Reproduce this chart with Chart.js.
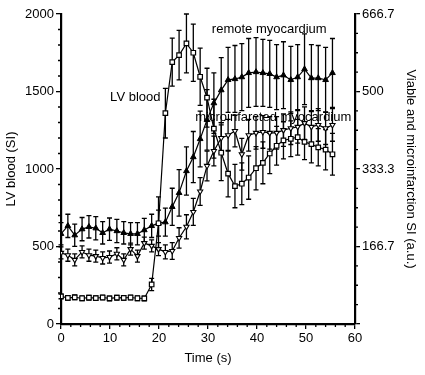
<!DOCTYPE html>
<html>
<head>
<meta charset="utf-8">
<script src="https://cdn.jsdelivr.net/npm/chart.js@4.4.1/dist/chart.umd.min.js"></script>
<style>
  html, body { margin: 0; padding: 0; background: #fff; }
  #wrap { width: 425px; height: 375px; }
</style>
</head>
<body>
<div id="wrap"><canvas id="myChart" width="425" height="375"></canvas></div>
<script>
// sample times (s), one per heart beat
var time = [0, 1.4, 2.8, 4.3, 5.7, 7.1, 8.5, 9.9, 11.4, 12.8, 14.2, 15.6, 17, 18.5, 19.9, 21.3, 22.7, 24.1, 25.6, 27,
            28.4, 29.8, 31.2, 32.7, 34.1, 35.5, 36.9, 38.3, 39.8, 41.2, 42.6, 44, 45.4, 46.9, 48.3, 49.7, 51.1, 52.5, 54, 55.4];

// LV blood, left axis (SI)
var lvBlood = [178, 168, 172, 166, 170, 167, 171, 165, 170, 168, 171, 166, 165, 255, 650, 1360, 1690, 1735, 1810, 1750,
               1595, 1460, 1260, 1105, 970, 890, 905, 945, 1005, 1040, 1100, 1150, 1185, 1195, 1205, 1175, 1160, 1140, 1125, 1095];
var lvBloodErr = [15, 15, 15, 15, 15, 15, 15, 15, 15, 15, 15, 15, 15, 40, 170, 160, 155, 160, 190, 185,
                  185, 190, 190, 180, 150, 140, 135, 140, 140, 135, 130, 125, 120, 115, 115, 115, 120, 120, 130, 135];

// remote myocardium, right axis (a.u.)
var remote = [194, 211, 191, 204, 209, 206, 196, 204, 200, 196, 194, 194, 202, 211, 217, 219, 252, 282, 329, 359,
              398, 439, 475, 503, 525, 527, 531, 540, 542, 540, 538, 531, 535, 525, 531, 548, 529, 529, 525, 540];
var remoteErr = [24, 25, 24, 25, 24, 25, 24, 24, 25, 24, 24, 24, 25, 25, 28, 30, 40, 50, 52, 55,
                 60, 65, 65, 70, 70, 72, 72, 74, 74, 72, 72, 70, 72, 72, 70, 76, 72, 70, 70, 74];

// microinfarcted myocardium, right axis (a.u.)
var micro = [153, 148, 138, 155, 148, 146, 142, 144, 151, 138, 161, 146, 174, 168, 161, 155, 157, 185, 209, 241,
             285, 340, 372, 400, 406, 415, 365, 406, 411, 413, 411, 411, 417, 421, 424, 432, 424, 428, 421, 428];
var microErr = [13, 13, 13, 13, 13, 13, 13, 13, 13, 13, 13, 13, 13, 13, 14, 15, 18, 22, 26, 29,
                30, 32, 32, 33, 34, 34, 34, 34, 35, 35, 35, 35, 35, 35, 35, 35, 35, 35, 35, 35];

var leftTicks = [0, 500, 1000, 1500, 2000];
var rightTicks = [0, 166.7, 333.3, 500, 666.7];
var rightTickLabels = ['', '166.7', '333.3', '500', '666.7'];
var xTicks = [0, 10, 20, 30, 40, 50, 60];

function toPoints(ys) {
    return ys.map(function (v, i) { return { x: time[i], y: v }; });
}

var FONT = "'Liberation Sans', Arial, Helvetica, sans-serif";
var FS = 13;

// error bars, drawn under the markers
var errorBars = {
    id: 'errorBars',
    beforeDatasetsDraw: function (chart) {
        var ctx = chart.ctx;
        var xs = chart.scales.x;
        ctx.save();
        ctx.strokeStyle = '#000';
        ctx.lineWidth = 1.3;
        chart.data.datasets.forEach(function (ds) {
            var ys = chart.scales[ds.yAxisID];
            ds.err.forEach(function (e, i) {
                var px = xs.getPixelForValue(time[i]);
                var top = ys.getPixelForValue(ds.raw[i] + e);
                var bot = ys.getPixelForValue(ds.raw[i] - e);
                ctx.beginPath();
                ctx.moveTo(px, top); ctx.lineTo(px, bot);
                ctx.moveTo(px - 2.5, top); ctx.lineTo(px + 2.5, top);
                ctx.moveTo(px - 2.5, bot); ctx.lineTo(px + 2.5, bot);
                ctx.stroke();
            });
        });
        ctx.restore();
    }
};

// minor ticks and the series names
var extras = {
    id: 'extras',
    afterDraw: function (chart) {
        var ctx = chart.ctx;
        var a = chart.chartArea;
        var xs = chart.scales.x, yl = chart.scales.y, yr = chart.scales.y2;
        ctx.save();
        ctx.strokeStyle = '#000';
        ctx.lineWidth = 1.3;
        ctx.beginPath();
        for (var t = 2; t < 60; t += 2) {
            if (t % 10 === 0) continue;
            var px = xs.getPixelForValue(t);
            ctx.moveTo(px, a.bottom); ctx.lineTo(px, a.bottom + 3);
        }
        for (var v = 100; v < 2000; v += 100) {
            if (v % 500 === 0) continue;
            var py = yl.getPixelForValue(v);
            ctx.moveTo(a.left, py); ctx.lineTo(a.left - 3, py);
        }
        for (var k = 1; k < 16; k++) {
            if (k % 4 === 0) continue;
            var py2 = yr.getPixelForValue(666.7 * k / 16);
            ctx.moveTo(a.right, py2); ctx.lineTo(a.right + 3, py2);
        }
        ctx.stroke();

        ctx.fillStyle = '#000';
        ctx.font = FS + 'px ' + FONT;
        ctx.textBaseline = 'middle';
        ctx.textAlign = 'right';
        ctx.fillText('LV blood', xs.getPixelForValue(20.3), yl.getPixelForValue(1460));
        ctx.textAlign = 'center';
        ctx.fillText('remote myocardium', xs.getPixelForValue(42.5), yl.getPixelForValue(1900));
        ctx.textAlign = 'left';
        ctx.fillText('microinfarcted myocardium', xs.getPixelForValue(27.4), yl.getPixelForValue(1330));
        ctx.restore();
    }
};

var ctx = document.getElementById('myChart');

var myChart = new Chart(ctx, {
    type: 'line',
    data: {
        datasets: [{
            label: 'LV blood',
            data: toPoints(lvBlood),
            raw: lvBlood,
            err: lvBloodErr,
            yAxisID: 'y',
            borderColor: '#000',
            borderWidth: 1.2,
            pointStyle: 'rect',
            pointRadius: 3.2,
            pointBackgroundColor: '#fff',
            pointBorderColor: '#000',
            pointBorderWidth: 1.2,
            tension: 0
        }, {
            label: 'remote myocardium',
            data: toPoints(remote),
            raw: remote,
            err: remoteErr,
            yAxisID: 'y2',
            borderColor: '#000',
            borderWidth: 1.2,
            pointStyle: 'triangle',
            pointRadius: 3.3,
            pointBackgroundColor: '#000',
            pointBorderColor: '#000',
            pointBorderWidth: 1,
            tension: 0
        }, {
            label: 'microinfarcted myocardium',
            data: toPoints(micro),
            raw: micro,
            err: microErr,
            yAxisID: 'y2',
            borderColor: '#000',
            borderWidth: 1.2,
            pointStyle: 'triangle',
            pointRotation: 180,
            pointRadius: 3,
            pointBackgroundColor: '#fff',
            pointBorderColor: '#000',
            pointBorderWidth: 1.1,
            tension: 0
        }]
    },
    options: {
        responsive: false,
        animation: false,
        events: [],
        layout: { padding: { top: 14, left: 0, right: 0, bottom: 0 } },
        plugins: {
            legend: { display: false },
            tooltip: { enabled: false }
        },
        scales: {
            x: {
                type: 'linear',
                min: 0,
                max: 60,
                afterBuildTicks: function (scale) {
                    scale.ticks = xTicks.map(function (v) { return { value: v }; });
                },
                afterFit: function (scale) { scale.height = 51; },
                grid: { drawOnChartArea: false, tickLength: 5, color: '#000', lineWidth: 1.3 },
                border: { display: true, color: '#000', width: 2.2 },
                ticks: {
                    color: '#000', font: { family: FONT, size: FS }, padding: 2, maxRotation: 0,
                    callback: function (v) { return String(v); }
                },
                title: { display: true, text: 'Time (s)', color: '#000', font: { family: FONT, size: FS }, padding: { top: 0, bottom: 9 } }
            },
            y: {
                type: 'linear',
                position: 'left',
                min: 0,
                max: 2000,
                afterBuildTicks: function (scale) {
                    scale.ticks = leftTicks.map(function (v) { return { value: v }; });
                },
                afterFit: function (scale) { scale.width = 61; },
                grid: { drawOnChartArea: false, tickLength: 5, color: '#000', lineWidth: 1.3 },
                border: { display: true, color: '#000', width: 2.2 },
                ticks: {
                    color: '#000', font: { family: FONT, size: FS }, padding: 2,
                    callback: function (v) { return String(v); }
                },
                title: { display: true, text: 'LV blood (SI)', color: '#000', font: { family: FONT, size: FS }, padding: { top: 4, bottom: 0 } }
            },
            y2: {
                type: 'linear',
                position: 'right',
                min: 0,
                max: 666.7,
                afterBuildTicks: function (scale) {
                    scale.ticks = rightTicks.map(function (v) { return { value: v }; });
                },
                afterFit: function (scale) { scale.width = 70; },
                grid: { drawOnChartArea: false, tickLength: 5, color: '#000', lineWidth: 1.3 },
                border: { display: true, color: '#000', width: 2.2 },
                ticks: {
                    color: '#000', font: { family: FONT, size: FS }, padding: 2,
                    callback: function (v, i) { return rightTickLabels[i]; }
                },
                title: { display: true, text: 'Viable and microinfarction SI (a.u.)', color: '#000', font: { family: FONT, size: FS }, padding: { top: 7, bottom: 0 } }
            }
        }
    },
    plugins: [errorBars, extras]
});
</script>
</body>
</html>
